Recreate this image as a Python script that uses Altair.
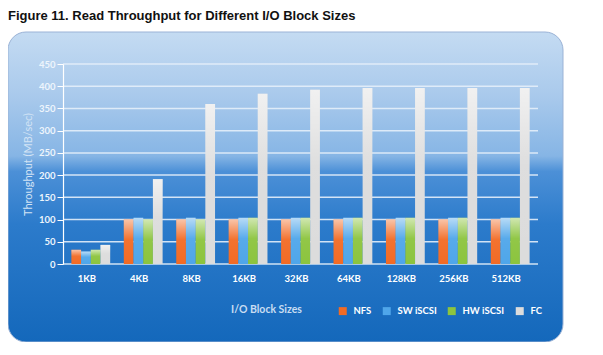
import altair as alt
import pandas as pd

sizes = ["1KB", "4KB", "8KB", "16KB", "32KB", "64KB", "128KB", "256KB", "512KB"]
series = ["NFS", "SW iSCSI", "HW iSCSI", "FC"]
nfs = [32, 100, 100, 100, 100, 100, 100, 100, 100]
sw_iscsi = [28, 104, 104, 104, 104, 104, 104, 104, 104]
hw_iscsi = [32, 100, 100, 104, 104, 104, 104, 104, 104]
fc = [43, 191, 360, 383, 392, 396, 396, 396, 396]
y_ticks = [0, 50, 100, 150, 200, 250, 300, 350, 400, 450]
colors = ["#f26b25", "#4fa6ea", "#8cc43e", "#dcdcdc"]
title_text = "Figure 11. Read Throughput for Different I/O Block Sizes"

rows = []
for name, vals in zip(series, [nfs, sw_iscsi, hw_iscsi, fc]):
    for s, v in zip(sizes, vals):
        rows.append({"size": s, "series": name, "value": v})
df = pd.DataFrame(rows)
grid_df = pd.DataFrame({"value": y_ticks})

W, H = 475, 200
FONT = "Lato"

panel = alt.Chart(pd.DataFrame({"a": [0]})).mark_rect(
    cornerRadius=18,
    stroke="#9bb3d6",
    strokeWidth=1,
    color=alt.LinearGradient(
        gradient="linear", x1=0, x2=0, y1=0, y2=1,
        stops=[
            alt.GradientStop(offset=0, color="#c4dbf2"),
            alt.GradientStop(offset=0.2, color="#aacaec"),
            alt.GradientStop(offset=0.40, color="#86b5e5"),
            alt.GradientStop(offset=0.45, color="#4c90d7"),
            alt.GradientStop(offset=0.62, color="#2c7bcb"),
            alt.GradientStop(offset=1, color="#1468bb"),
        ],
    ),
).encode(
    x=alt.value(-55), x2=alt.value(500), y=alt.value(-32), y2=alt.value(278)
)

title = alt.Chart(pd.DataFrame({"a": [0]})).mark_text(
    text=title_text, align="left", baseline="alphabetic",
    font="Liberation Sans", fontWeight="bold", fontSize=13, color="#111111",
).encode(x=alt.value(-55), y=alt.value(-44))

yaxis = alt.Axis(
    values=y_ticks, title="Throughput (MB/sec)", grid=False, labelOverlap=False,
    domainColor="#ffffff", domainWidth=1.2, tickColor="#ffffff", tickSize=6,
    labelColor="#eef5fc", labelFont=FONT, labelFontWeight="bold", labelFontSize=9.5,
    labelPadding=2, zindex=1,
    titleColor="#d2e3f5", titleFont=FONT, titleFontWeight="normal", titleFontSize=11,
    titlePadding=5,
)
yscale = alt.Scale(domain=[0, 450], nice=False)

grid = alt.Chart(grid_df).mark_rule(color="#e4eefa", strokeWidth=1.5, opacity=0.9).encode(
    y=alt.Y("value:Q", scale=yscale, axis=yaxis), x=alt.value(0), x2=alt.value(W)
)

xaxis = alt.Axis(
    title="I/O Block Sizes", domain=False, ticks=False, grid=False,
    labelAngle=0, labelColor="#ffffff", labelFont=FONT, labelFontWeight="bold",
    labelFontSize=9.5, labelPadding=9, labelOffset=-4, zindex=1,
    titleColor="#c8ddf2", titleFont=FONT, titleFontWeight="bold", titleFontSize=10.5,
    titleX=203, titleY=45, titleAlign="center", titleBaseline="middle",
)
xscale = alt.Scale(paddingInner=0.26, paddingOuter=0.16)
xoff = alt.XOffset("series:N", sort=series, scale=alt.Scale(paddingInner=0, paddingOuter=0))

bars = alt.Chart(df).mark_bar().encode(
    x=alt.X("size:N", sort=sizes, scale=xscale, axis=xaxis),
    y=alt.Y("value:Q", scale=yscale, axis=yaxis),
    xOffset=xoff,
    color=alt.Color(
        "series:N", sort=series,
        scale=alt.Scale(domain=series, range=colors),
        legend=alt.Legend(
            title=None, orient="none", legendX=275, legendY=242, direction="horizontal",
            symbolType="square", symbolSize=64, symbolStrokeWidth=0, symbolOpacity=1,
            labelColor="#ffffff", labelFont=FONT, labelFontWeight="bold", labelFontSize=9.5,
            labelOffset=6, columnPadding=10, padding=0,
        ),
    ),
)

gloss = alt.Chart(df).mark_bar(
    color=alt.LinearGradient(
        gradient="linear", x1=0, x2=0, y1=0, y2=1,
        stops=[
            alt.GradientStop(offset=0, color="rgba(255,255,255,0.6)"),
            alt.GradientStop(offset=0.45, color="rgba(255,255,255,0.05)"),
            alt.GradientStop(offset=1, color="rgba(255,255,255,0)"),
        ],
    )
).encode(
    x=alt.X("size:N", sort=sizes, scale=xscale, axis=xaxis),
    y=alt.Y("value:Q", scale=yscale, axis=yaxis),
    xOffset=xoff,
)

chart = alt.layer(panel, title, grid, bars, gloss).properties(
    width=W, height=H,
    autosize=alt.AutoSizeParams(type="none"),
    padding={"left": 55, "top": 56, "right": 57, "bottom": 78},
).configure_view(stroke=None)

chart.save("out.html", embed_options={"renderer": "svg", "actions": False})
